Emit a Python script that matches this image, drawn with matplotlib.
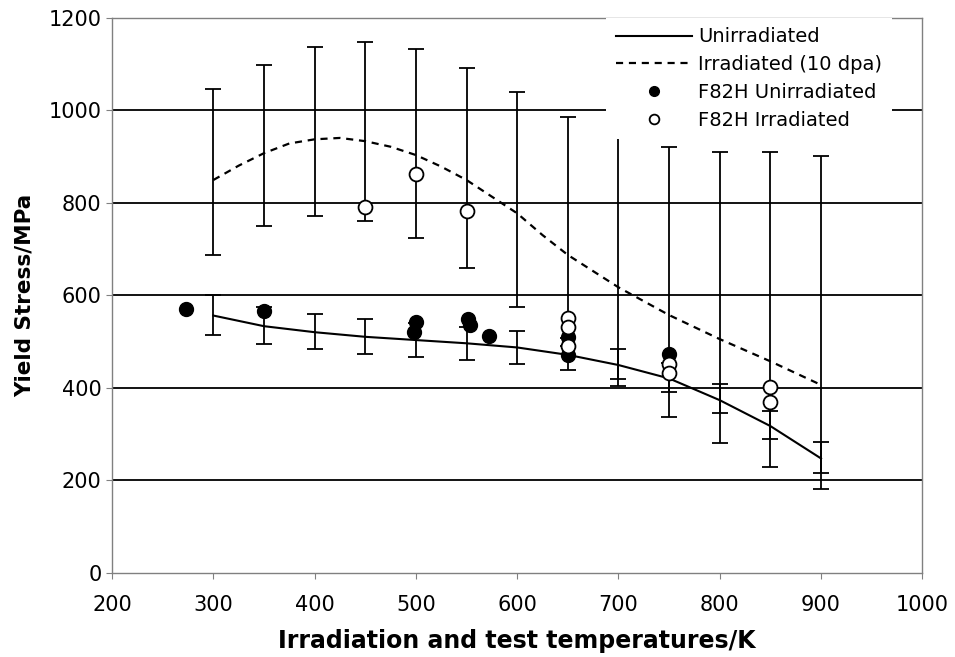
import matplotlib
matplotlib.use('Agg')
import matplotlib.pyplot as plt
import numpy as np

# temperatures where the error bars sit
t_bar = [300, 350, 400, 450, 500, 550, 600, 650, 700, 750, 800, 850, 900]
unirr_lo = [515, 495, 483, 473, 466, 460, 451, 439, 419, 390, 346, 288, 216]
unirr_hi = [600, 574, 559, 548, 540, 532, 522, 507, 484, 454, 408, 350, 282]
irr_lo = [686, 750, 771, 761, 723, 659, 575, 490, 404, 336, 280, 229, 182]
irr_hi = [1046, 1098, 1137, 1148, 1132, 1091, 1039, 986, 960, 921, 910, 910, 900]

# model curves
t_unirr = [300, 350, 400, 450, 500, 550, 600, 650, 700, 750, 800, 850, 900]
y_unirr = [556, 533, 520, 510, 503, 496, 487, 471, 449, 420, 373, 317, 247]
t_irr = [300, 325, 350, 375, 400, 425, 450, 475, 500, 525, 550, 575, 600, 625, 650,
         700, 750, 800, 850, 900]
y_irr = [849, 880, 907, 928, 937, 940, 933, 921, 903, 878, 849, 813, 777, 730, 687,
         617, 557, 505, 457, 406]

# F82H data points
f82h_un_t = [273, 350, 498, 500, 551, 553, 572, 650, 650, 750]
f82h_un_y = [570, 566, 521, 542, 548, 536, 512, 510, 470, 473]
f82h_ir_t = [450, 500, 550, 650, 650, 650, 750, 750, 850, 850]
f82h_ir_y = [791, 863, 782, 550, 531, 491, 451, 431, 402, 370]

fig = plt.figure(figsize=(9.55, 6.57), dpi=100)
ax = fig.add_axes([0.1173, 0.1283, 0.8485, 0.8448])

for lo, hi in [(unirr_lo, unirr_hi), (irr_lo, irr_hi)]:
    lo = np.array(lo); hi = np.array(hi)
    ax.errorbar(t_bar, (lo + hi) / 2, yerr=(hi - lo) / 2, fmt='none', ecolor='black',
                elinewidth=1.3, capsize=5.8, capthick=1.3, zorder=3)

l1, = ax.plot(t_unirr, y_unirr, color='black', lw=1.5, zorder=3)
l2, = ax.plot(t_irr, y_irr, color='black', lw=1.6, ls=(0, (3.2, 2.6)), zorder=3)
s1, = ax.plot(f82h_un_t, f82h_un_y, 'o', color='black', ms=10, ls='none', zorder=4)
s2, = ax.plot(f82h_ir_t, f82h_ir_y, 'o', mfc='white', mec='black', mew=1.3, ms=10,
              ls='none', zorder=5)

ax.set_xlim(200, 1000)
ax.set_ylim(0, 1200)
ax.set_xticks(range(200, 1001, 100))
ax.set_yticks(range(0, 1201, 200))
for yv in range(200, 1001, 200):
    ax.axhline(yv, color='black', lw=1.3, zorder=1)
for sp in ax.spines.values():
    sp.set_color('#808080')
    sp.set_linewidth(1.0)
ax.tick_params(direction='out', length=4, color='#808080')
ax.tick_params(axis='x', labelsize=15, pad=12)
ax.tick_params(axis='y', labelsize=15)

ax.set_xlabel('Irradiation and test temperatures/K', fontsize=17, fontweight='bold', labelpad=10)
ax.set_ylabel('Yield Stress/MPa', fontsize=15.5, fontweight='bold', labelpad=10)

leg = ax.legend([l1, l2, s1, s2],
                ['Unirradiated', 'Irradiated (10 dpa)', 'F82H Unirradiated', 'F82H Irradiated'],
                loc='upper right', bbox_to_anchor=(0.962, 1.0), fontsize=14,
                handlelength=3.9, handletextpad=0.3, labelspacing=0.45,
                borderaxespad=0, borderpad=0.5,
                frameon=True, fancybox=False, edgecolor='none', facecolor='white',
                framealpha=1, markerscale=0.7)

fig.savefig('out.png', dpi=100)
